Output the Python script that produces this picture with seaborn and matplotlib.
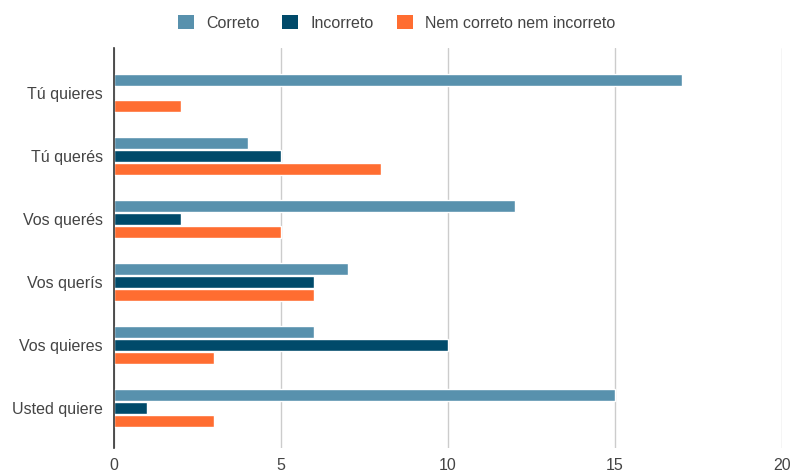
import matplotlib
matplotlib.use("Agg")
import matplotlib.pyplot as plt
import seaborn as sns
import pandas as pd
from matplotlib.patches import Patch

categories = ["Tú quieres", "Tú querés", "Vos querés", "Vos querís", "Vos quieres", "Usted quiere"]
series = ["Correto", "Incorreto", "Nem correto nem incorreto"]
correto = [17, 4, 12, 7, 6, 15]
incorreto = [0, 5, 2, 6, 10, 1]
nem = [2, 8, 5, 6, 3, 3]
x_ticks = [0, 5, 10, 15, 20]
colors = ["#5891ad", "#004a6a", "#ff6d31"]

rows = []
for name, vals in zip(series, [correto, incorreto, nem]):
    for cat, v in zip(categories, vals):
        rows.append({"categoria": cat, "serie": name, "valor": v})
df = pd.DataFrame(rows)

sns.set_theme(style="white")
plt.rcParams["font.family"] = ["Liberation Sans", "DejaVu Sans"]
text_color = "#444444"

fig = plt.figure(figsize=(7.93, 4.72), dpi=100)
ax = fig.add_axes([114 / 793, 1 - 448 / 472, (782 - 114) / 793, (448 - 48) / 472])

sns.barplot(data=df, y="categoria", x="valor", hue="serie", order=categories,
            hue_order=series, palette=colors, orient="h", width=0.62, gap=0.06,
            saturation=1, legend=False, ax=ax, zorder=3)

ax.set_xlim(0, 20)
ax.set_ylim(5.64, -0.71)
ax.set_xticks(x_ticks)
ax.set_xticklabels([str(t) for t in x_ticks])
ax.set_xlabel("")
ax.set_ylabel("")
ax.grid(axis="x", color="#cccccc", linewidth=1, zorder=0)
ax.grid(axis="y", visible=False)
for s in ["top", "right", "bottom"]:
    ax.spines[s].set_visible(False)
ax.spines["left"].set_color("#333333")
ax.spines["left"].set_linewidth(1.2)
ax.spines["left"].set_zorder(4)
ax.tick_params(axis="both", length=0, labelsize=11.5, colors=text_color)
ax.tick_params(axis="x", pad=7)
ax.tick_params(axis="y", pad=8)

handles = [Patch(facecolor=c, edgecolor="none", label=n) for c, n in zip(colors, series)]
fig.legend(handles=handles, loc="center", bbox_to_anchor=(0.5, 1 - 23 / 472), ncol=3,
           frameon=False, fontsize=11.5, labelcolor=text_color, handlelength=1.0,
           handleheight=1.0, handletextpad=0.75, columnspacing=1.45)

fig.savefig("out.png", dpi=100)
